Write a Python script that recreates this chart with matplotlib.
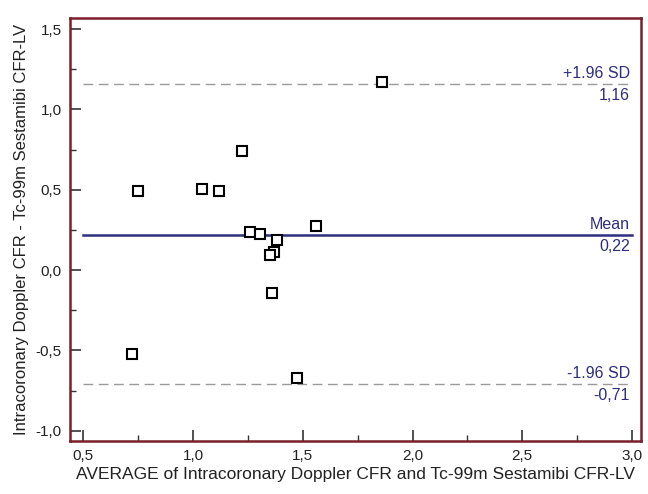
import matplotlib
matplotlib.use("Agg")
import matplotlib.pyplot as plt
from matplotlib.ticker import FuncFormatter, MultipleLocator

plt.rcParams['font.family'] = ['Liberation Sans', 'DejaVu Sans']

# moyenne des deux méthodes et différence (Bland-Altman)
moyenne = [1.223, 0.749, 1.043, 1.118, 1.259, 1.305, 1.383, 1.367, 1.350,
           1.560, 1.359, 0.724, 1.473, 1.863]
difference = [0.742, 0.493, 0.502, 0.493, 0.236, 0.224, 0.187, 0.112, 0.093,
              0.276, -0.143, -0.523, -0.670, 1.172]

# lignes de référence : valeur, libellé au-dessus, libellé en-dessous
lignes = [1.16, 0.22, -0.71]
libelles_haut = ["+1.96 SD", "Mean", "-1.96 SD"]
libelles_bas = ["1,16", "0,22", "-0,71"]

bordure = '#7a1f2b'
bleu = '#2e2e7e'

fig = plt.figure(figsize=(6.48, 4.94), dpi=100)
ax = fig.add_axes([0.108, 0.108, 0.881, 0.855])

for valeur, haut, bas in zip(lignes, libelles_haut, libelles_bas):
    if haut == "Mean":
        ax.plot([0.5, 3.0], [valeur, valeur], color=bleu, lw=1.8, zorder=1)
    else:
        ax.plot([0.5, 3.0], [valeur, valeur], color='#9a9a9a', lw=1.0,
                dashes=(7, 4), zorder=1)
    ax.annotate(haut, (2.99, valeur), xytext=(0, 2), textcoords='offset points',
                ha='right', va='bottom', color=bleu, fontsize=11.5)
    ax.annotate(bas, (2.99, valeur), xytext=(0, -3), textcoords='offset points',
                ha='right', va='top', color=bleu, fontsize=11.5)

ax.plot(moyenne, difference, linestyle='none', marker='s', ms=7,
        mfc='white', mec='black', mew=1.5, zorder=3)

ax.set_xlim(0.44, 3.04)
ax.set_ylim(-1.062, 1.567)

ax.xaxis.set_major_locator(MultipleLocator(0.5))
ax.xaxis.set_minor_locator(MultipleLocator(0.25))
ax.yaxis.set_major_locator(MultipleLocator(0.5))
ax.yaxis.set_minor_locator(MultipleLocator(0.25))

virgule = FuncFormatter(lambda v, p: ("%.1f" % v).replace('.', ','))
ax.xaxis.set_major_formatter(virgule)
ax.yaxis.set_major_formatter(virgule)

ax.tick_params(which='major', direction='in', length=8, width=1.2,
               color='#333333', labelsize=11, labelcolor='#222222', pad=6)
ax.tick_params(which='minor', direction='in', length=4, width=1.0,
               color='#333333')

for cote in ax.spines.values():
    cote.set_color(bordure)
    cote.set_linewidth(1.8)

ax.set_xlabel("AVERAGE of Intracoronary Doppler CFR and Tc-99m Sestamibi CFR-LV",
              fontsize=12.5, color='#222222', labelpad=3)
ax.set_ylabel("Intracoronary Doppler CFR - Tc-99m Sestamibi CFR-LV",
              fontsize=12, color='#222222', labelpad=5)

plt.savefig('out.png', dpi=100)
